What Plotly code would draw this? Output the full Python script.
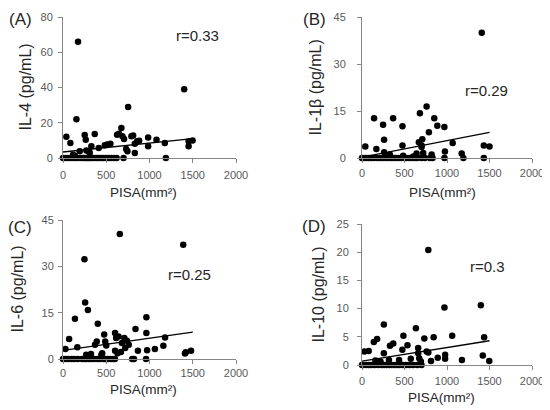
import plotly.graph_objects as go

# --- data (PISA mm², cytokine pg/mL) ---
il4_x = [174, 155, 753, 1401, 39, 85, 251, 263, 367, 413, 483, 510, 548, 625, 648, 675,
         687, 706, 730, 745, 791, 811, 830, 857, 880, 830, 984, 984, 1081, 1177, 1189,
         1452, 1452, 1498, 193, 301, 328, 270, 309, 135, 116,
         0, 30, 60, 100, 130, 160, 200, 230, 250, 270, 290, 310, 330, 360, 390, 410,
         440, 470, 500, 530, 560, 590, 620, 700]
il4_y = [66, 22, 29, 39, 12, 8.5, 13, 10.4, 13.6, 5.7, 7.2, 7.6, 8.1, 13.2, 13.8, 17,
         12.3, 10.8, 5.1, 3.8, 12.3, 12.7, 8.1, 9.5, 9.8, 2.8, 11.7, 6.6, 10.4, 8.5, 0,
         9.5, 6.6, 10, 3.8, 3.8, 6.6, 4.3, 2.8, 1.3, 1.9,
         0, 0, 0, 0, 0, 0, 0, 0, 0, 0, 0, 0, 0, 0, 0, 0,
         0, 0, 0, 0, 0, 0, 0, 0]

il1b_x = [1409, 39, 142, 248, 260, 366, 476, 476, 701, 669, 681, 709, 760, 787, 850, 886,
          969, 976, 1067, 1173, 1193, 1433, 1500, 1433, 169, 260, 327, 701, 642, 720,
          819, 484, 602,
          0, 20, 50, 80, 110, 140, 180, 210, 240, 280, 310, 340, 370, 400, 430, 460,
          500, 520, 550, 580, 620, 650, 700, 740, 800, 830, 970]
il1b_y = [40, 3.7, 12.7, 10.6, 5.8, 12.7, 10.1, 4, 4, 5, 14.3, 6, 16.4, 8.2, 12.7, 10.3,
          9.9, 2.1, 4.8, 1.4, 0, 4, 3.7, 0, 2.9, 1.8, 1.1, 3.5, 1.4, 1.6,
          1.1, 0.7, 0.5,
          0, 0, 0, 0, 0, 0, 0, 0, 0, 0, 0, 0, 0, 0, 0, 0,
          0, 0, 0, 0, 0, 0, 0, 0, 0, 0, 0]

il6_x = [657, 1390, 248, 256, 288, 138, 402, 71, 28, 166, 390, 370, 476, 488, 500, 602,
         614, 642, 681, 709, 740, 760, 720, 602, 670, 630, 838, 964, 964, 866, 972, 1062,
         1160, 1180, 1420, 1480, 1410, 268, 323, 444, 453,
         0, 30, 60, 100, 130, 170, 220, 250, 270, 300, 330, 360, 400, 430, 470, 490,
         520, 550, 580, 600, 800, 820, 960]
il6_y = [40.5, 37, 32.3, 18.3, 15.9, 13, 11.4, 6.5, 3.2, 3.8, 5.7, 4.6, 7.9, 5.7, 4.4, 8.4,
         6.8, 7.3, 5.2, 6.8, 5.9, 4.6, 3.6, 2.7, 2.3, 1.9, 9.7, 13.5, 8.4, 2.7, 2.8, 3.2,
         4.3, 7, 2.2, 2.7, 1.8, 1.4, 1.6, 1.4, 1.9,
         0, 0, 0, 0, 0, 0, 0, 0, 0, 0, 0, 0, 0, 0, 0, 0,
         0, 0, 0, 0, 0, 0, 0]

il10_x = [780, 970, 1398, 257, 634, 487, 1061, 843, 733, 1437, 28, 79, 139, 178, 329, 368,
          535, 475, 661, 661, 760, 780, 891, 978, 978, 1176, 1421, 1497, 257, 673, 574,
          436, 158, 317, 218, 693, 812,
          0, 20, 50, 80, 110, 150, 190, 230, 260, 290, 320, 350, 380, 410, 440, 480,
          520, 560, 600, 650, 700]
il10_y = [20.4, 10.2, 10.6, 7.2, 6.5, 5.2, 5.2, 4.9, 4.7, 4.9, 2.4, 2.5, 4.1, 4.6, 3.4, 3.8,
          3.5, 2.7, 3, 2.1, 2.4, 2.2, 1.3, 1.8, 1.1, 0.9, 1.7, 0.7, 2.1, 1.2, 1.1,
          0.9, 0.8, 0.9, 0.6, 0.6, 0.7,
          0, 0, 0, 0, 0, 0, 0, 0, 0, 0, 0, 0, 0, 0, 0, 0,
          0, 0, 0, 0, 0]

# linear trend lines (end points)
trend_x = [0, 1500]
il4_trend = [3.4, 11.0]
il1b_trend = [0.3, 8.2]
il6_trend = [2.8, 8.7]
il10_trend = [0.7, 4.3]

labels = ["(A)", "(B)", "(C)", "(D)"]
y_titles = ["IL-4 (pg/mL)", "IL-1β (pg/mL)", "IL-6 (pg/mL)", "IL-10 (pg/mL)"]
r_texts = ["r=0.33", "r=0.29", "r=0.25", "r=0.3"]
r_pos = [(1550, 69.5), (1470, 21.7), (1457, 27.5), (1482, 17.4)]
y_max = [80, 45, 45, 25]
y_dtick = [20, 15, 15, 5]
x_ticks = [0, 500, 1000, 1500, 2000]

panels = [(il4_x, il4_y, il4_trend), (il1b_x, il1b_y, il1b_trend),
          (il6_x, il6_y, il6_trend), (il10_x, il10_y, il10_trend)]

# page body has an 8px margin, so lay out in reference pixels and shift
OFF = 8
W, H = 550 - OFF, 410 - OFF
# plot areas in reference pixels: (left, right, top, bottom)
boxes = [(63, 236, 17, 158), (362, 532, 17, 158), (63, 236, 220, 359), (362, 532, 224, 365)]
label_xy = [(20, 19), (314, 20), (20, 227), (314, 226)]
ytitle_x = [25, 315, 17, 318]
xtitle_xy = [(143, 193), (442, 193), (143, 389), (441, 397)]
ytick_pad = [3, 9, 2, 6]
xtick_pad = [3, 1, 0, 2]


def px(x):
    return (x - OFF) / W


def py(y):
    return 1 - (y - OFF) / H


FONT = "Liberation Sans, Arial, sans-serif"
fig = go.Figure()
layout = dict(width=W, height=H, margin=dict(l=0, r=0, t=0, b=0),
              paper_bgcolor="white", plot_bgcolor="white", showlegend=False,
              font=dict(family=FONT, color="#262626"))
annotations = []

for i, ((xs, ys, tr), (l, r, t, b)) in enumerate(zip(panels, boxes)):
    n = "" if i == 0 else str(i + 1)
    xa, ya = "x" + n, "y" + n
    fig.add_trace(go.Scatter(x=xs, y=ys, mode="markers", xaxis=xa, yaxis=ya,
                             marker=dict(color="black", size=6.5), cliponaxis=False))
    fig.add_trace(go.Scatter(x=trend_x, y=tr, mode="lines", xaxis=xa, yaxis=ya,
                             line=dict(color="black", width=1.3)))
    axis_common = dict(showgrid=False, zeroline=False, showline=True, linecolor="#868686",
                       linewidth=1, ticks="outside", ticklen=4, tickcolor="#868686",
                       automargin=False,
                       tickfont=dict(size=11, color="#595959", family=FONT))
    layout["xaxis" + n] = dict(axis_common, domain=[px(l), px(r)], range=[0, 2000],
                               tickvals=x_ticks, anchor=ya, ticklabelstandoff=xtick_pad[i])
    layout["yaxis" + n] = dict(axis_common, domain=[py(b), py(t)],
                               range=[0, y_max[i]], dtick=y_dtick[i], anchor=xa,
                               ticklabelstandoff=ytick_pad[i])
    # axis titles placed as annotations so their spot matches the reference
    annotations.append(dict(x=px(xtitle_xy[i][0]), y=py(xtitle_xy[i][1]),
                            xref="paper", yref="paper", text="PISA(mm²)", showarrow=False,
                            xanchor="center", yanchor="middle",
                            font=dict(size=13.5, color="#262626")))
    annotations.append(dict(x=px(ytitle_x[i]), y=py((t + b) / 2), xref="paper", yref="paper",
                            text=y_titles[i], showarrow=False, textangle=-90,
                            xanchor="center", yanchor="middle",
                            font=dict(size=16, color="#262626")))
    annotations.append(dict(x=r_pos[i][0], y=r_pos[i][1], xref=xa, yref=ya,
                            text=r_texts[i], showarrow=False,
                            font=dict(size=15, color="#262626")))
    annotations.append(dict(x=px(label_xy[i][0]), y=py(label_xy[i][1]),
                            xref="paper", yref="paper", text=labels[i], showarrow=False,
                            xanchor="center", yanchor="middle",
                            font=dict(size=17, color="#262626")))

layout["annotations"] = annotations
fig.update_layout(**layout)
fig.write_html("out.html")
